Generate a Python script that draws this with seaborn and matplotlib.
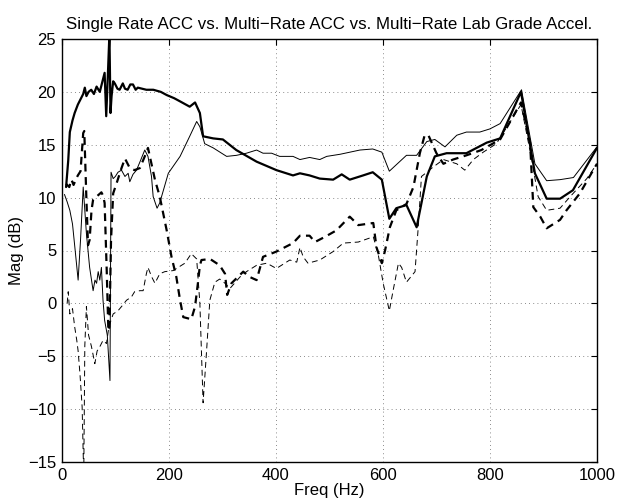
import matplotlib
matplotlib.use("Agg")
import matplotlib.pyplot as plt
import seaborn as sns
import pandas as pd

# ---------------- data ----------------
single_x = [8, 12, 15, 20, 24, 30, 34, 40, 43, 46, 50, 55, 60, 65, 71, 76, 80, 83, 86, 89, 91, 93, 96, 99,
            104, 108, 114, 118, 123, 128, 133, 138, 142, 150, 158, 171, 185, 196, 210, 221, 239, 249, 258,
            264, 283, 301, 326, 364, 401, 432, 445, 463, 482, 507, 523, 538, 563, 581, 598, 612, 625, 644,
            663, 682, 697, 719, 756, 794, 819, 858, 884, 906, 931, 955, 1000]
single_y = [11.0, 13.5, 16.2, 17.3, 18.0, 18.8, 19.2, 19.8, 20.4, 19.6, 20.0, 20.2, 19.8, 20.5, 20.0, 21.0,
            21.8, 17.7, 21.5, 25.5, 18.0, 19.6, 21.0, 20.8, 20.3, 20.2, 20.8, 20.3, 20.2, 20.7, 20.7, 20.2,
            20.4, 20.3, 20.2, 20.2, 20.0, 19.7, 19.4, 19.1, 18.6, 19.0, 18.0, 15.8, 15.6, 15.5, 14.5, 13.4,
            12.6, 12.1, 12.3, 12.1, 11.8, 11.7, 12.2, 11.7, 12.1, 12.4, 11.7, 8.0, 9.0, 9.3, 7.2, 12.0, 13.9,
            14.2, 14.2, 15.2, 15.6, 20.0, 12.3, 9.9, 9.9, 10.7, 14.7]

multi_x = [5, 10, 15, 20, 25, 30.5, 35, 40, 46, 52, 58.5, 62, 65, 68, 71, 74, 77, 80, 85, 90, 92, 96, 100,
           105, 111.5, 118, 124, 127, 133, 139.6, 147, 155, 161, 167.6, 170.7, 178, 183, 199, 221, 239, 252,
           258, 267, 283, 308, 326.5, 345, 364, 376, 392, 407, 432, 445, 463, 482, 495, 520, 557, 581, 598,
           612, 644, 663, 682, 697, 716, 738, 756, 781, 800, 819, 859, 884, 906, 931, 956, 1000]
multi_y = [10.3, 9.6, 8.8, 7.5, 5.0, 2.2, 6.0, 11.0, 6.6, 3.4, 1.2, 2.2, 1.9, 3.0, 2.2, 3.4, 0.3, -1.6,
           -3.0, -7.3, 12.4, 11.8, 12.0, 12.4, 12.6, 12.0, 12.3, 11.5, 12.2, 12.6, 13.5, 14.5, 13.9, 12.0,
           10.1, 9.0, 9.5, 12.3, 13.9, 15.8, 17.2, 16.7, 15.1, 14.7, 13.9, 14.0, 14.2, 14.5, 14.2, 14.2,
           13.9, 13.9, 13.6, 13.8, 13.6, 13.9, 14.1, 14.5, 14.6, 14.3, 12.5, 14.0, 14.0, 15.3, 15.5, 14.8,
           15.9, 16.2, 16.2, 16.5, 17.0, 20.2, 13.2, 11.6, 11.7, 11.9, 14.8]

lab_x = [8, 14, 18, 22, 27, 30, 35, 40, 42, 46, 49, 52, 55.5, 58.5, 65, 74, 77, 80, 84, 87, 89, 92, 96, 102,
         111.6, 118, 127, 136, 146, 155, 161, 164.5, 174, 183, 196, 205, 214, 221, 227, 242, 249, 255, 258,
         261, 277, 295, 305, 309, 317, 339, 351, 364, 376, 401, 432, 445, 463, 473, 492, 513, 538, 554,
         582, 588, 598, 604, 613, 625, 644, 657, 669, 678, 685, 700, 713, 731, 756, 784, 819, 858, 875,
         881, 894, 906, 931, 943, 968, 993, 1000]
lab_y = [11.3, 11.0, 11.7, 11.2, 11.8, 12.1, 12.5, 16.1, 16.3, 9.8, 5.5, 6.0, 8.8, 9.8, 10.1, 10.5, 10.2,
         9.5, 3.0, -2.6, -2.2, 6.0, 10.4, 11.3, 12.8, 13.7, 12.8, 12.6, 12.8, 13.9, 14.7, 13.9, 11.7, 10.1,
         6.9, 4.4, 2.5, 0.3, -1.3, -1.5, -0.3, 2.2, 3.6, 4.1, 4.2, 3.6, 2.8, 0.8, 1.9, 3.0, 2.5, 2.2, 4.4,
         4.9, 5.7, 6.4, 6.4, 5.8, 6.3, 6.9, 8.2, 7.4, 7.6, 5.3, 3.8, 5.0, 7.2, 8.8, 9.4, 11.0, 14.2, 15.9,
         15.9, 14.2, 13.2, 13.6, 14.0, 14.5, 15.5, 19.0, 15.2, 9.1, 8.2, 7.1, 7.9, 8.8, 10.4, 12.6, 13.2]

ref_x = [10, 12, 15, 20, 24, 28, 30.5, 34, 38, 41, 43, 46, 50, 55.5, 61.7, 66, 71, 77, 83.5, 88, 96, 105,
         111.6, 121, 130, 136, 146, 152, 158, 161, 168, 174, 183, 192.5, 208, 230, 242, 252, 258, 264,
         270.5, 276.6, 286, 295, 305, 314, 333, 345, 364, 383, 401, 426, 439, 445, 451, 460, 482, 507, 526,
         554, 582, 591, 600.5, 612, 619, 629, 635, 644, 660, 666, 672, 682, 694, 713, 738, 753, 769, 787.5,
         812, 858, 878, 890, 906, 931, 950, 981, 1000]
ref_y = [0.0, 1.1, -1.0, -0.5, -2.2, -3.5, -4.5, -6.7, -9.8, -16.5, -4.0, -0.3, -3.0, -4.1, -5.7, -4.5,
         -4.1, -3.5, -3.8, -2.2, -1.0, -0.7, -0.3, 0.3, 0.6, 1.1, 1.2, 1.2, 2.8, 3.4, 2.5, 1.9, 2.8, 3.0,
         3.1, 3.8, 4.7, 4.2, 0.0, -9.4, -4.5, 0.3, 2.0, 2.3, 1.9, 1.4, 2.5, 3.0, 3.6, 3.8, 3.3, 4.1, 3.9,
         5.3, 4.4, 3.8, 4.1, 4.9, 5.7, 5.8, 6.3, 4.7, 1.9, -0.7, 1.2, 3.8, 3.4, 2.0, 3.0, 7.2, 12.0, 12.4,
         12.9, 13.6, 13.2, 12.6, 13.6, 14.3, 15.1, 18.8, 13.6, 10.1, 8.8, 9.0, 10.1, 11.8, 13.2]

title = "Single Rate ACC vs. Multi\u2212Rate ACC vs. Multi\u2212Rate Lab Grade Accel."
xlabel = "Freq (Hz)"
ylabel = "Mag (dB)"
xticks = [0, 200, 400, 600, 800, 1000]
yticks = [-15, -10, -5, 0, 5, 10, 15, 20, 25]

# ---------------- plot ----------------
sns.set_style("white")
plt.rcParams['font.family'] = ['Liberation Sans', 'DejaVu Sans']
plt.rcParams['axes.unicode_minus'] = True
plt.rcParams['text.color'] = 'black'
plt.rcParams['axes.labelcolor'] = 'black'
plt.rcParams['xtick.color'] = 'black'
plt.rcParams['ytick.color'] = 'black'

fig = plt.figure(figsize=(6.18, 5.0), dpi=100)
ax = fig.add_axes([0.100, 0.076, 0.866, 0.846])

styles = [
    (single_x, single_y, dict(color='black', linewidth=1.6, linestyle='-')),
    (multi_x, multi_y, dict(color='black', linewidth=0.7, linestyle='-')),
    (lab_x, lab_y, dict(color='black', linewidth=1.6, linestyle=(0, (3.5, 2.5)))),
    (ref_x, ref_y, dict(color='black', linewidth=0.7, linestyle=(0, (6, 4)))),
]
for xs, ys, kw in styles:
    df = pd.DataFrame({"x": xs, "y": ys})
    sns.lineplot(data=df, x="x", y="y", ax=ax, sort=False, estimator=None, **kw)

ax.set_xlim(0, 1000)
ax.set_ylim(-15, 25)
ax.set_xticks(xticks)
ax.set_yticks(yticks)
ax.set_yticklabels([str(t).replace('-', '\u2212') for t in yticks])
ax.grid(True, linestyle=(0, (1, 4)), color='#666666', linewidth=0.6)
ax.tick_params(direction='in', length=4, width=0.8, top=True, right=True,
               labelsize=12, labelcolor='black', color='black', pad=4)
for s in ax.spines.values():
    s.set_color('black')
    s.set_linewidth(1.0)
ax.set_xlabel(xlabel, fontsize=12, labelpad=0, color='black')
ax.set_ylabel(ylabel, fontsize=12, labelpad=3, color='black')
ax.set_title(title, fontsize=12.2, pad=7, color='black')

fig.savefig("out.png", dpi=100)
